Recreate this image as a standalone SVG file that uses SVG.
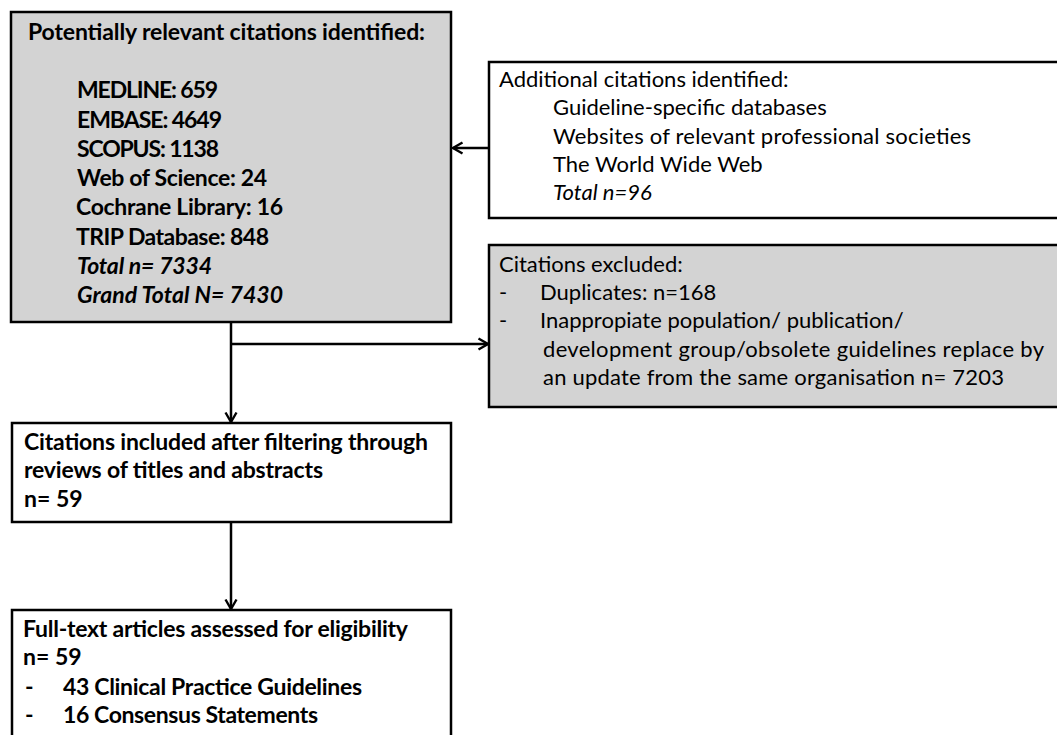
<svg xmlns="http://www.w3.org/2000/svg" width="1057" height="735" viewBox="0 0 1057 735">
<style>
.box{stroke:#000;stroke-width:2.5}
.gray{fill:#d3d3d3}
.white{fill:#fff}
text{font-family:Lato,"Open Sans","Liberation Sans",sans-serif;font-size:22px;fill:#000}
.b{font-weight:bold;font-size:23px}
.i{font-style:italic}
.conn{stroke:#000;stroke-width:2.5;fill:none}
</style>
<defs>
<marker id="arr" viewBox="0 0 14 14" refX="12" refY="7" markerWidth="14" markerHeight="14" markerUnits="userSpaceOnUse" orient="auto">
<path d="M2.5,1.5 L12,7 L2.5,12.5" fill="none" stroke="#000" stroke-width="2.4"/>
</marker>
</defs>
<rect width="1057" height="735" fill="#fff"/>
<g id="connectors">
<line class="conn" x1="489" y1="148" x2="453" y2="148" marker-end="url(#arr)"/>
<line class="conn" x1="231" y1="323" x2="231" y2="422" marker-end="url(#arr)"/>
<line class="conn" x1="231" y1="344" x2="488" y2="344" marker-end="url(#arr)"/>
<line class="conn" x1="231" y1="522" x2="231" y2="609" marker-end="url(#arr)"/>
</g>
<g id="node-identified">
<rect class="box gray" x="11" y="12" width="440" height="310"/>
<text class="b" x="28" y="40" textLength="397">Potentially relevant citations identified:</text>
<text class="b" x="77" y="98" textLength="141">MEDLINE: 659</text>
<text class="b" x="77" y="128" textLength="145">EMBASE: 4649</text>
<text class="b" x="77" y="157" textLength="142">SCOPUS: 1138</text>
<text class="b" x="77" y="186" textLength="190">Web of Science: 24</text>
<text class="b" x="76" y="215" textLength="207">Cochrane Library: 16</text>
<text class="b" x="76" y="245" textLength="193">TRIP Database: 848</text>
<text class="b i" x="77" y="274" textLength="135">Total n= 7334</text>
<text class="b i" x="77" y="303" textLength="206">Grand Total N= 7430</text>
</g>
<g id="node-additional">
<rect class="box white" x="489" y="62" width="570" height="156"/>
<text x="499" y="87">Additional citations identified:</text>
<text x="553" y="115">Guideline-specific databases</text>
<text x="553" y="144" textLength="418">Websites of relevant professional societies</text>
<text x="553" y="172">The World Wide Web</text>
<text class="i" x="553" y="200">Total n=96</text>
</g>
<g id="node-excluded">
<rect class="box gray" x="489" y="245" width="570" height="162"/>
<text x="499" y="272">Citations excluded:</text>
<text x="499" y="300">-</text>
<text x="540" y="300">Duplicates: n=168</text>
<text x="499" y="328">-</text>
<text x="540" y="328">Inappropiate population/ publication/</text>
<text x="543" y="357" textLength="501">development group/obsolete guidelines replace by</text>
<text x="543" y="385" textLength="461">an update from the same organisation n= 7203</text>
</g>
<g id="node-included">
<rect class="box white" x="12" y="423" width="439" height="99"/>
<text class="b" x="24" y="450" textLength="404">Citations included after filtering through</text>
<text class="b" x="24" y="478" textLength="299">reviews of titles and abstracts</text>
<text class="b" x="24" y="507">n= 59</text>
</g>
<g id="node-fulltext">
<rect class="box white" x="12" y="610" width="439" height="135"/>
<text class="b" x="23" y="637" textLength="385">Full-text articles assessed for eligibility</text>
<text class="b" x="23" y="665">n= 59</text>
<text class="b" x="25" y="695">-</text>
<text class="b" x="63" y="695" textLength="299">43 Clinical Practice Guidelines</text>
<text class="b" x="25" y="723">-</text>
<text class="b" x="63" y="723" textLength="255">16 Consensus Statements</text>
</g>
</svg>
